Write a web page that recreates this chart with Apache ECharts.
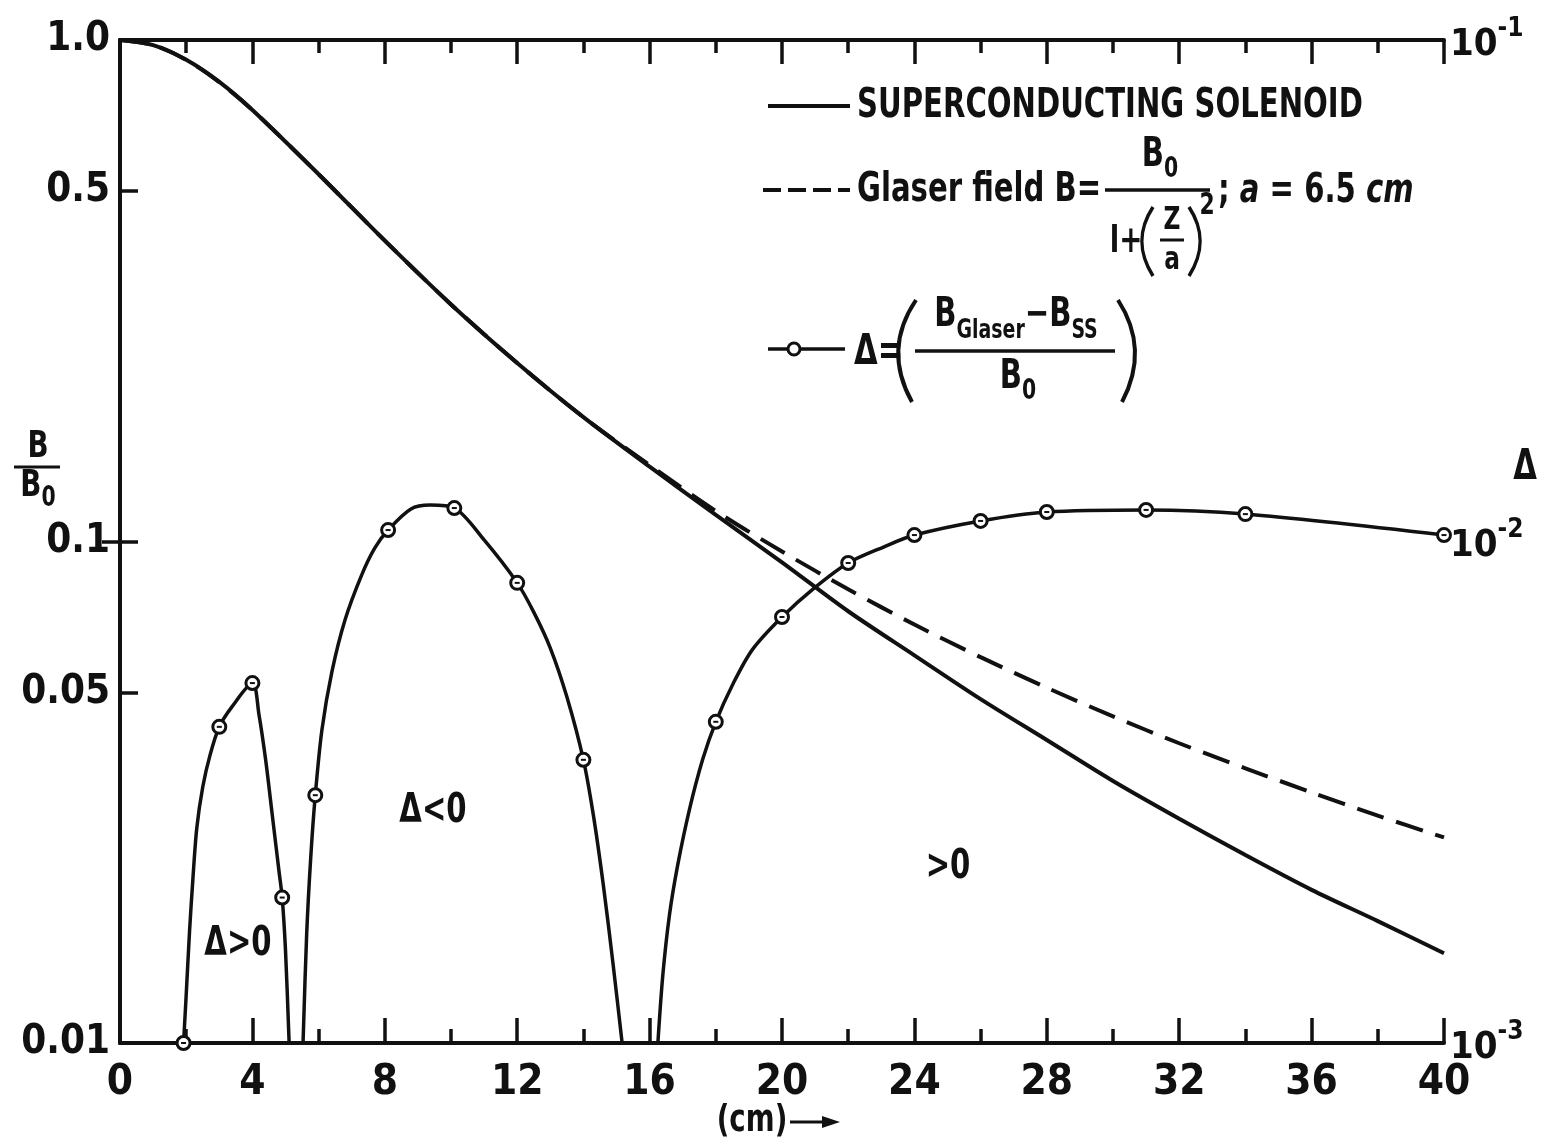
<!DOCTYPE html>
<html>
<head>
<meta charset="utf-8">
<script src="https://cdn.jsdelivr.net/npm/echarts@6/dist/echarts.min.js"></script>
<style>
  html, body { margin: 0; padding: 0; background: #fff; }
  #chart { width: 1546px; height: 1145px; }
</style>
</head>
<body>
<div id="chart"></div>
<script>
// Axial position z (cm) at which both field curves are tabulated
const zGrid = [0, 1, 2, 3, 4, 6, 8, 10, 12, 14, 16, 18, 20, 22, 24, 26, 28, 30, 32, 34, 36, 38, 40];

// B/B0 of the superconducting solenoid
const solenoidField = [1.0, 0.977, 0.913, 0.825, 0.725, 0.540, 0.398, 0.297, 0.227, 0.177, 0.141, 0.113,
  0.0909, 0.0726, 0.0593, 0.0485, 0.0402, 0.0333, 0.0280, 0.0237, 0.0202, 0.0175, 0.0151];

// B/B0 of the Glaser field, a = 6.5 cm
const glaserField = [1.0, 0.977, 0.913, 0.824, 0.725, 0.540, 0.398, 0.297, 0.227, 0.177, 0.142, 0.115,
  0.0955, 0.0803, 0.0683, 0.0588, 0.0511, 0.0448, 0.0396, 0.0353, 0.0316, 0.0284, 0.0257];

// |Δ| traced along its three branches (each ends where Δ changes sign)
const deltaBranch1Z = [1.92, 2.0, 2.1, 2.2, 2.32, 2.5, 2.72, 3.0, 3.38, 4.0, 4.2, 4.4, 4.6, 4.8, 4.9, 5.0, 5.11];
const deltaBranch1 = [0.001, 0.001247, 0.001665, 0.002113, 0.002684, 0.00324, 0.00375, 0.00427, 0.00468,
  0.00522, 0.00451, 0.00367, 0.00285, 0.00221, 0.00195, 0.00153, 0.001];

const deltaBranch2Z = [5.53, 5.64, 5.76, 5.9, 6.1, 6.4, 6.8, 7.3, 7.7, 8.1, 8.79, 9.37, 10.1, 11.0,
  12.0, 12.5, 13.0, 13.5, 14.0, 14.3, 14.6, 14.9, 15.17];
const deltaBranch2 = [0.001, 0.00165, 0.00233, 0.00312, 0.00421, 0.00549, 0.00698, 0.00857, 0.00971,
  0.01054, 0.01161, 0.01182, 0.01166, 0.01007, 0.00827, 0.00723, 0.00613, 0.0049, 0.00367, 0.00285,
  0.00207, 0.00143, 0.001];

const deltaBranch3Z = [16.25, 16.4, 16.6, 16.85, 17.2, 17.6, 18.0, 18.5, 19.1, 20.0, 20.98, 22.0, 23.07,
  24.0, 26.0, 28.0, 31.0, 34.0, 40.0];
const deltaBranch3 = [0.001, 0.001367, 0.0018, 0.002265, 0.002914, 0.00367, 0.00437, 0.00517, 0.00608,
  0.00707, 0.00808, 0.00906, 0.00975, 0.0103, 0.01099, 0.01145, 0.01156, 0.01134, 0.0103];

// Computed |Δ| points (open circles)
const deltaPointZ = [1.92, 3.0, 4.0, 4.9, 5.9, 8.1, 10.1, 12.0, 14.0, 18.0, 20.0, 22.0, 24.0, 26.0,
  28.0, 31.0, 34.0, 40.0];
const deltaPoints = [0.001, 0.00427, 0.00522, 0.00195, 0.00312, 0.01054, 0.01166, 0.00827, 0.00367,
  0.00437, 0.00707, 0.00906, 0.0103, 0.01099, 0.01145, 0.01156, 0.01134, 0.0103];

// Tick values and their labels
const leftTickValues = [0.01, 0.05, 0.1, 0.5, 1];
const leftTickLabels = ['0.01', '0.05', '0.1', '0.5', '1.0'];
const leftInnerTicks = [0.05, 0.1, 0.5];
const rightTickValues = [0.001, 0.01, 0.1];
const rightTickExponents = ['-3', '-2', '-1'];
const rightInnerTicks = [0.01];

const FONT = "'DejaVu Sans Condensed', 'Liberation Sans Narrow', 'DejaVu Sans', sans-serif";
const INK = '#111';
const NARROW = 0.81;   // horizontal squeeze for the lettered captions

const pairs = (xs, ys) => xs.map((x, i) => [x, ys[i]]);
const matchTick = (list, v) => list.findIndex(t => Math.abs(Math.log10(t) - Math.log10(v)) < 1e-6);

const chart = echarts.init(document.getElementById('chart'), null, { renderer: 'canvas' });

const axisLineStyle = { show: true, lineStyle: { color: INK, width: 4 } };

// caption text helper: bold condensed lettering, squeezed horizontally
function caption(x, y, text, size, extra) {
  return Object.assign({
    type: 'text', x: x, y: y, scaleX: NARROW,
    style: Object.assign({ text: text, fill: INK, font: 'bold ' + size + 'px ' + FONT,
      textVerticalAlign: 'middle' }, (extra && extra.style) || {})
  }, extra && extra.el ? extra.el : {});
}

const subRich = (big, small) => ({
  b: { font: 'bold ' + big + 'px ' + FONT, lineHeight: big + 8, verticalAlign: 'top' },
  s: { font: 'bold ' + small + 'px ' + FONT, lineHeight: big + 8, verticalAlign: 'bottom' }
});

const option = {
  backgroundColor: '#fff',
  animation: false,
  textStyle: { fontFamily: FONT, color: INK },
  grid: { left: 120, right: 102, top: 40, bottom: 102, outerBoundsMode: 'none' },
  xAxis: [
    {
      type: 'value', position: 'bottom', min: 0, max: 40, interval: 4,
      axisLine: axisLineStyle,
      axisTick: { show: true, inside: true, length: 25, lineStyle: { color: INK, width: 3.5 } },
      minorTick: { show: true, splitNumber: 2, length: 14, lineStyle: { color: INK, width: 3.5 } },
      splitLine: { show: false },
      axisLabel: { fontSize: 42, fontWeight: 'bold', color: INK, margin: 19, fontFamily: FONT }
    },
    {
      type: 'value', position: 'top', min: 0, max: 40, interval: 4,
      axisLine: axisLineStyle,
      axisTick: { show: true, inside: true, length: 24, lineStyle: { color: INK, width: 3.5 } },
      minorTick: { show: true, splitNumber: 2, length: 13, lineStyle: { color: INK, width: 3.5 } },
      splitLine: { show: false },
      axisLabel: { show: false }
    }
  ],
  yAxis: [
    {
      type: 'log', logBase: 10, position: 'left', min: 0.01, max: 1,
      axisLine: axisLineStyle,
      axisTick: { show: true, inside: true, length: 18, customValues: leftInnerTicks,
        lineStyle: { color: INK, width: 3.5 } },
      splitLine: { show: false },
      minorTick: { show: false },
      axisLabel: {
        customValues: leftTickValues, fontSize: 40, fontWeight: 'bold', color: INK, margin: 10,
        fontFamily: FONT,
        formatter: (v) => {
          const i = matchTick(leftTickValues, v);
          return i >= 0 ? leftTickLabels[i] : '';
        }
      }
    },
    {
      type: 'log', logBase: 10, position: 'right', min: 0.001, max: 0.1,
      axisLine: axisLineStyle,
      axisTick: { show: true, inside: true, length: 18, customValues: rightInnerTicks,
        lineStyle: { color: INK, width: 3.5 } },
      splitLine: { show: false },
      minorTick: { show: false },
      axisLabel: {
        customValues: rightTickValues, margin: 6, color: INK, fontFamily: FONT,
        formatter: (v) => {
          const i = matchTick(rightTickValues, v);
          return i >= 0 ? '{m|10}{e|' + rightTickExponents[i] + '}' : '';
        },
        rich: {
          m: { fontSize: 38, fontWeight: 'bold', lineHeight: 48, verticalAlign: 'bottom', fontFamily: FONT },
          e: { fontSize: 26, fontWeight: 'bold', lineHeight: 48, verticalAlign: 'top', fontFamily: FONT }
        }
      }
    }
  ],
  series: [
    {
      name: 'SUPERCONDUCTING SOLENOID', type: 'line', xAxisIndex: 0, yAxisIndex: 0,
      data: pairs(zGrid, solenoidField), smooth: 0.3, symbol: 'none',
      lineStyle: { color: INK, width: 4 }, z: 3
    },
    {
      name: 'Glaser field', type: 'line', xAxisIndex: 0, yAxisIndex: 0,
      data: pairs(zGrid, glaserField), smooth: 0.3, symbol: 'none',
      lineStyle: { color: INK, width: 4, type: [28, 13] }, z: 2
    },
    {
      name: 'Δ branch 1', type: 'line', xAxisIndex: 0, yAxisIndex: 1,
      data: pairs(deltaBranch1Z, deltaBranch1), smooth: 0.3, symbol: 'none',
      lineStyle: { color: INK, width: 3.5 }
    },
    {
      name: 'Δ branch 2', type: 'line', xAxisIndex: 0, yAxisIndex: 1,
      data: pairs(deltaBranch2Z, deltaBranch2), smooth: 0.3, symbol: 'none',
      lineStyle: { color: INK, width: 3.5 }
    },
    {
      name: 'Δ branch 3', type: 'line', xAxisIndex: 0, yAxisIndex: 1,
      data: pairs(deltaBranch3Z, deltaBranch3), smooth: 0.3, symbol: 'none',
      lineStyle: { color: INK, width: 3.5 }
    },
    {
      name: 'Δ points', type: 'scatter', xAxisIndex: 0, yAxisIndex: 1, clip: false,
      data: pairs(deltaPointZ, deltaPoints), symbol: 'circle', symbolSize: 13,
      itemStyle: { color: '#fff', borderColor: INK, borderWidth: 3, opacity: 1 }, z: 5
    },
    {
      name: 'Δ point bars', type: 'scatter', xAxisIndex: 0, yAxisIndex: 1, clip: false,
      data: pairs(deltaPointZ, deltaPoints), symbol: 'rect', symbolSize: [5, 2],
      itemStyle: { color: INK, opacity: 1 }, z: 6, silent: true
    }
  ],
  graphic: [
    // legend: superconducting solenoid
    { type: 'line', shape: { x1: 768, y1: 106, x2: 850, y2: 106 }, style: { stroke: INK, lineWidth: 4 } },
    caption(857, 107, 'SUPERCONDUCTING SOLENOID', 40),
    // legend: Glaser field
    { type: 'line', shape: { x1: 763, y1: 190, x2: 850, y2: 190 },
      style: { stroke: INK, lineWidth: 4, lineDash: [18, 7] } },
    caption(857, 191, 'Glaser field B=', 40),
    caption(1160, 160, '{b|B}{s|0}', 40, { style: { textAlign: 'center', rich: subRich(40, 28) } }),
    { type: 'line', shape: { x1: 1105, y1: 190, x2: 1210, y2: 190 }, style: { stroke: INK, lineWidth: 3.5 } },
    caption(1126, 242, 'l+', 38, { style: { textAlign: 'center' } }),
    { type: 'bezierCurve', shape: { x1: 1153, y1: 207, cpx1: 1138, cpy1: 230, cpx2: 1138, cpy2: 252, x2: 1153, y2: 276 },
      style: { stroke: INK, lineWidth: 3.5, fill: 'none' } },
    caption(1172, 221, 'Z', 32, { style: { textAlign: 'center' } }),
    { type: 'line', shape: { x1: 1160, y1: 240, x2: 1184, y2: 240 }, style: { stroke: INK, lineWidth: 3 } },
    caption(1172, 261, 'a', 32, { style: { textAlign: 'center' } }),
    { type: 'bezierCurve', shape: { x1: 1189, y1: 207, cpx1: 1204, cpy1: 230, cpx2: 1204, cpy2: 252, x2: 1189, y2: 276 },
      style: { stroke: INK, lineWidth: 3.5, fill: 'none' } },
    caption(1207, 206, '2', 30, { style: { textAlign: 'center' } }),
    caption(1218, 192, '{n|; }{i|a}{n| = 6.5 }{i|cm}', 40, { style: {
      rich: { n: { font: 'bold 40px ' + FONT }, i: { font: 'italic bold 40px ' + FONT } } } }),
    // legend: Δ
    { type: 'line', shape: { x1: 768, y1: 349, x2: 845, y2: 349 }, style: { stroke: INK, lineWidth: 3.5 } },
    { type: 'circle', shape: { cx: 794, cy: 349, r: 6 }, style: { fill: '#fff', stroke: INK, lineWidth: 3 } },
    caption(854, 353, 'Δ=', 42),
    { type: 'bezierCurve', shape: { x1: 916, y1: 300, cpx1: 893, cpy1: 334, cpx2: 893, cpy2: 368, x2: 912, y2: 402 },
      style: { stroke: INK, lineWidth: 4, fill: 'none' } },
    caption(1016, 320, '{b|B}{s|Glaser}{b|−B}{s|SS}', 40, { style: { textAlign: 'center', rich: subRich(40, 26) } }),
    { type: 'line', shape: { x1: 915, y1: 351, x2: 1115, y2: 351 }, style: { stroke: INK, lineWidth: 3.5 } },
    caption(1018, 382, '{b|B}{s|0}', 40, { style: { textAlign: 'center', rich: subRich(40, 28) } }),
    { type: 'bezierCurve', shape: { x1: 1118, y1: 300, cpx1: 1140, cpy1: 334, cpx2: 1140, cpy2: 368, x2: 1122, y2: 402 },
      style: { stroke: INK, lineWidth: 4, fill: 'none' } },
    // region annotations
    caption(238, 945, 'Δ>0', 40, { style: { textAlign: 'center' } }),
    caption(433, 812, 'Δ<0', 40, { style: { textAlign: 'center' } }),
    caption(948, 868, '>0', 40, { style: { textAlign: 'center' } }),
    // left axis title B/B0
    caption(38, 447, 'B', 38, { style: { textAlign: 'center' } }),
    { type: 'line', shape: { x1: 14, y1: 467, x2: 60, y2: 467 }, style: { stroke: INK, lineWidth: 3 } },
    caption(38, 490, '{b|B}{s|0}', 38, { style: { textAlign: 'center', rich: subRich(38, 28) } }),
    // right axis title Δ
    caption(1525, 468, 'Δ', 42, { style: { textAlign: 'center' } }),
    // x axis title (cm) →
    caption(752, 1121, '(cm)', 38, { style: { textAlign: 'center' } }),
    { type: 'line', shape: { x1: 790, y1: 1122, x2: 826, y2: 1122 }, style: { stroke: INK, lineWidth: 3 } },
    { type: 'polygon', shape: { points: [[822, 1116], [840, 1122], [822, 1128]] }, style: { fill: INK } }
  ]
};

chart.setOption(option);
</script>
</body>
</html>
